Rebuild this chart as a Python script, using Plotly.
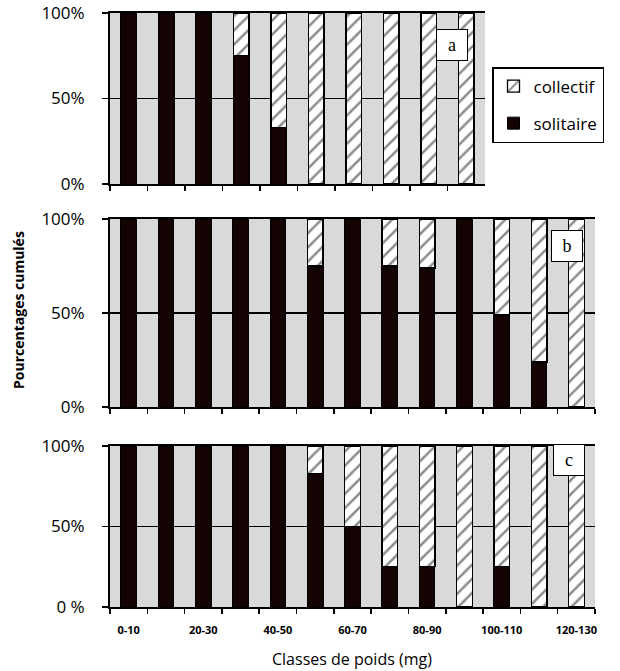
import plotly.graph_objects as go

categories = ["0-10", "10-20", "20-30", "30-40", "40-50", "50-60", "60-70",
              "70-80", "80-90", "90-100", "100-110", "110-120", "120-130"]
tick_labels = ["0-10", "", "20-30", "", "40-50", "", "60-70", "",
               "80-90", "", "100-110", "", "120-130"]

cats_a = categories[:10]
solitaire_a = [100, 100, 100, 75, 33, 0, 0, 0, 0, 0]
collectif_a = [0, 0, 0, 25, 67, 100, 100, 100, 100, 100]

solitaire_b = [100, 100, 100, 100, 100, 75, 100, 75, 74, 100, 49, 24, 0]
collectif_b = [0, 0, 0, 0, 0, 25, 0, 25, 26, 0, 51, 76, 100]

solitaire_c = [100, 100, 100, 100, 100, 83, 50, 25, 25, 0, 25, 0, 0]
collectif_c = [0, 0, 0, 0, 0, 17, 50, 75, 75, 100, 75, 100, 100]

BLACK = "#130303"
GRAY = "#d9d9d9"
W, H = 620, 671

def px_x(x):
    return x / W

def px_y(y):
    return 1 - y / H

def nz(vals):
    return [v if v else None for v in vals]

fig = go.Figure()

panels = [
    ("", cats_a, solitaire_a, collectif_a, True),
    ("2", categories, solitaire_b, collectif_b, False),
    ("3", categories, solitaire_c, collectif_c, False),
]

for s, cats, sol, col, show in panels:
    fig.add_trace(go.Bar(
        x=cats, y=nz(sol), name="solitaire", xaxis="x" + s, yaxis="y" + s,
        marker=dict(color=BLACK, line=dict(color="black", width=1)),
        width=0.42, showlegend=show, legendgroup="sol", legendrank=2))
    fig.add_trace(go.Bar(
        x=cats, y=nz(col), name="collectif", xaxis="x" + s, yaxis="y" + s,
        marker=dict(color="white", line=dict(color="black", width=1.3),
                    pattern=dict(shape="/", fgcolor="#1a1a1a", bgcolor="white",
                                 size=10, solidity=0.25)),
        width=0.42, showlegend=show, legendgroup="col", legendrank=1))

ydoms = [(184, 13), (407, 219), (607, 446)]
xright = [485, 595, 595]
names = ["", "2", "3"]

layout = dict(
    width=W, height=H, barmode="stack",
    margin=dict(l=0, r=0, t=0, b=0, autoexpand=False),
    paper_bgcolor="white", plot_bgcolor=GRAY,
    font=dict(family="Open Sans, Noto Sans, sans-serif", color="black"),
    legend=dict(x=px_x(492), y=px_y(67), xanchor="left", yanchor="top",
                traceorder="grouped", bordercolor="black",
                borderwidth=1.5, bgcolor="white", font=dict(size=17),
                itemwidth=30, tracegroupgap=12),
)

for i, n in enumerate(names):
    yb, yt = ydoms[i]
    layout["xaxis" + n] = dict(
        domain=[px_x(110), px_x(xright[i])], anchor="y" + n,
        type="category", showline=True, linecolor="black", linewidth=2,
        mirror=True, ticks="outside", tickson="boundaries", ticklen=5,
        tickwidth=1.5, tickcolor="black", showgrid=False,
        showticklabels=(i == 2), tickangle=0, automargin=False,
        tickvals=categories if i == 2 else None,
        ticktext=tick_labels if i == 2 else None,
        ticklabelstandoff=12,
        tickfont=dict(size=11, family="Open Sans, sans-serif", weight="bold"),
        fixedrange=True,
    )
    layout["yaxis" + n] = dict(
        domain=[px_y(yb), px_y(yt)], anchor="x" + n,
        range=[0, 100], tickvals=[0, 50, 100],
        ticktext=["0 %" if i == 2 else "0%", "50%", "100%"],
        showline=True, linecolor="black", linewidth=2,
        ticks="outside", ticklen=6, tickwidth=1.5, tickcolor="black",
        showgrid=True, gridcolor="black", gridwidth=1.6, automargin=False,
        ticklabeloverflow="allow", ticklabelstandoff=14,
        zeroline=False, tickfont=dict(size=17), fixedrange=True,
    )

fig.update_layout(**layout)

annotations = [
    dict(text="Pourcentages cumulés", x=px_x(18), y=px_y(310), xref="paper",
         yref="paper", xanchor="center", yanchor="middle", textangle=-90,
         showarrow=False, font=dict(size=14, weight="bold")),
    dict(text="Classes de poids (mg)", x=px_x(352), y=px_y(659), xref="paper",
         yref="paper", xanchor="center", yanchor="middle", showarrow=False,
         font=dict(size=16)),
]
for lbl, cx, cy in [("a", 451.5, 45.5), ("b", 566.5, 245.5), ("c", 568.5, 459.5)]:
    annotations.append(dict(
        text=lbl, x=px_x(cx), y=px_y(cy), xref="paper", yref="paper",
        xanchor="center", yanchor="middle",
        showarrow=False, bgcolor="white", bordercolor="black", borderwidth=1,
        width=30, height=30, borderpad=0,
        font=dict(family="Liberation Serif, serif", size=18)))
fig.update_layout(annotations=annotations)

fig.write_html("out.html",
               config={"displayModeBar": False, "staticPlot": True},
               post_script="document.body.style.margin='0';")
